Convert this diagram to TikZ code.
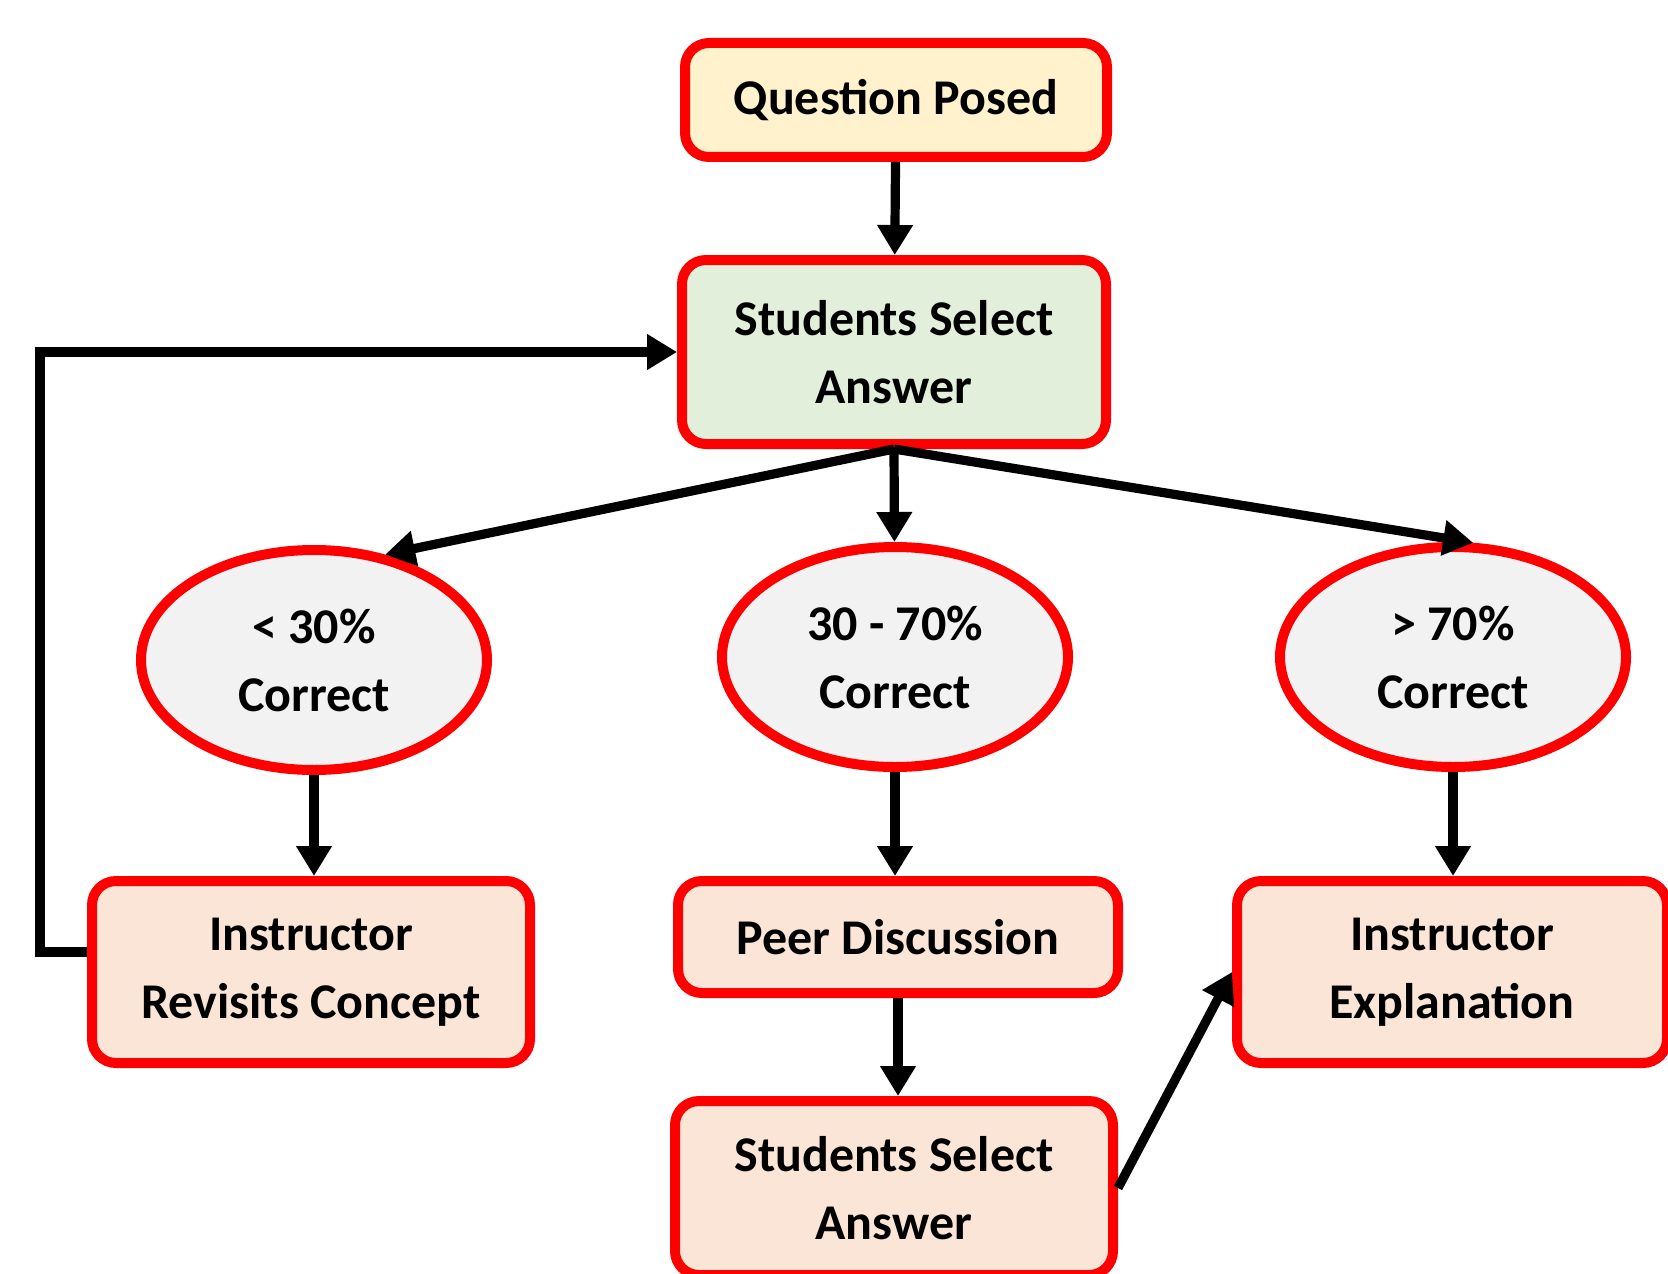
\documentclass[tikz,border=0pt]{standalone}
\usepackage{fontspec}
\setmainfont{Carlito}
\usetikzlibrary{arrows.meta,shapes.geometric}

\definecolor{qyellow}{HTML}{FFF2CC}
\definecolor{agreen}{HTML}{E2EFDA}
\definecolor{peach}{HTML}{FBE5D6}
\definecolor{ovalgray}{HTML}{F2F2F2}

\tikzset{
  box/.style={draw=red, line width=5pt, rounded corners=12pt, align=center,
    font=\bfseries\fontsize{25}{34}\selectfont},
  oval/.style={ellipse, draw=red, line width=5pt, fill=ovalgray, align=center,
    inner sep=0pt, minimum width=173pt, minimum height=110pt,
    font=\bfseries\fontsize{25}{34}\selectfont},
  flow/.style={-{Triangle[length=15pt,width=17pt]}, line width=4.6pt}
}

\begin{document}
\begin{tikzpicture}[x=0.5pt,y=-0.5pt]
\useasboundingbox (0,0) rectangle (1668,1273);
\clip (0,0) rectangle (1668,1273);

\node[box,fill=qyellow,minimum width=211pt,minimum height=57pt] (posed) at (896,100) {Question Posed};
\node[box,fill=agreen,minimum width=212pt,minimum height=92pt] (select) at (894,352) {Students Select\\Answer};

\node[oval] (low) at (314,660) {< 30\%\\Correct};
\node[oval] (mid) at (895,657) {30 - 70\%\\Correct};
\node[oval] (high) at (1453,657) {> 70\%\\Correct};

\node[box,fill=peach,minimum width=219pt,minimum height=91pt] (revisit) at (311,972) {Instructor\\Revisits Concept};
\node[box,fill=peach,minimum width=220pt,minimum height=56pt] (peer) at (898,937) {Peer Discussion};
\node[box,fill=peach,minimum width=219pt,minimum height=87pt] (reselect) at (894,1188) {Students Select\\Answer};
\node[box,fill=peach,minimum width=215pt,minimum height=91pt] (explain) at (1452,972) {Instructor\\Explanation};

\draw[flow] (posed) -- (select);
\draw[flow] (select.south) -- (low.56);
\draw[flow] (select.south) -- (mid);
\draw[flow] (select.south) -- (high.80);
\foreach \a/\b in {low/revisit,mid/peer,high/explain}
\draw[flow] (\a.south) -- (\a.south |- \b.north);
\draw[flow] (peer.south) -- (peer.south |- reselect.north);
\draw[flow] (reselect.east) -- (explain.west);
\coordinate (back) at (40,952);
\draw[flow] (revisit.west |- back) -- (back) |- (select.west);
\end{tikzpicture}
\end{document}
